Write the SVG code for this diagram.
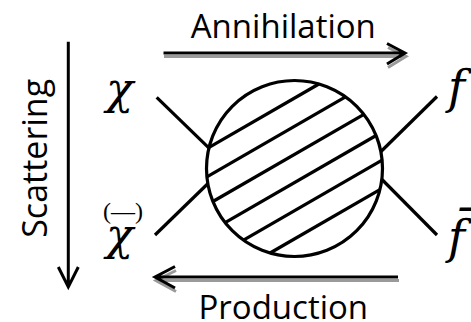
<svg xmlns="http://www.w3.org/2000/svg" width="471" height="322" viewBox="0 0 471 322">
<style>
.ln{fill:none;stroke:#000;stroke-width:3.2;stroke-linecap:butt}
.ar{fill:none;stroke:#000;stroke-width:3;stroke-linejoin:miter}
.sh{fill:none;stroke:#9a9a9a;stroke-width:3}
.lbl{font-family:"Open Sans","DejaVu Sans",sans-serif;font-size:33px;fill:#000}
.math{font-family:"DejaVu Serif","Liberation Serif",serif;font-style:italic;fill:#000}
.paren{font-family:"Liberation Serif","DejaVu Serif",serif;font-style:normal;font-size:24px}
</style>
<rect width="471" height="322" fill="#fff"/>
<g id="connectors">
  <line class="ln" x1="156.7" y1="97.3" x2="209.3" y2="148.3"/>
  <line class="ln" x1="155" y1="235" x2="208.5" y2="183"/>
  <line class="ln" x1="437" y1="96.5" x2="381" y2="151.5"/>
  <line class="ln" x1="381" y1="178.5" x2="437" y2="235"/>
  <g id="arrow-annihilation">
    <path class="sh" d="M164 56.5H406M388 47.5l18 9l-18 11"/>
    <path class="ar" d="M163.5 53H405M387 43.5l18 9.5l-18 11"/>
  </g>
  <g id="arrow-production">
    <path class="sh" d="M160 280.5H399M176 270.5l-20 10l20 11"/>
    <path class="ar" d="M398 277H157M175 266.5l-20 10.5l20 11"/>
  </g>
  <g id="arrow-scattering">
    <path class="ar" d="M68.3 41.7V285M58.3 267l10 20l10-20"/>
  </g>
</g>
<g id="blob">
  <circle cx="294.5" cy="168.5" r="88" fill="#fff" stroke="#000" stroke-width="3.2"/>
  <line class="ln" x1="209.1" y1="147.4" x2="318.9" y2="84.0"/>
  <line class="ln" x1="206.9" y1="176.8" x2="345.5" y2="96.8"/>
  <line class="ln" x1="212.9" y1="201.5" x2="363.9" y2="114.4"/>
  <line class="ln" x1="225.1" y1="222.6" x2="376.1" y2="135.5"/>
  <line class="ln" x1="243.5" y1="240.2" x2="382.1" y2="160.2"/>
  <line class="ln" x1="270.1" y1="253.0" x2="379.9" y2="189.6"/>
</g>
<g id="label-annihilation"><text class="lbl" x="283.3" y="38" text-anchor="middle">Annihilation</text></g>
<g id="label-production"><text class="lbl" x="283.3" y="318.5" text-anchor="middle">Production</text></g>
<g id="label-scattering"><text class="lbl" transform="translate(46.5,158.3) rotate(-90)" text-anchor="middle" style="font-size:34px">Scattering</text></g>
<g id="chi"><text class="math" x="106" y="104" style="font-size:45px">χ</text></g>
<g id="chibar">
  <text class="math" style="font-size:45px"><tspan class="paren" x="123" y="219" text-anchor="middle">(—)</tspan><tspan x="106" y="250">χ</tspan></text>
</g>
<g id="f"><text class="math" x="448" y="103" style="font-size:46px">f</text></g>
<g id="fbar"><text class="math" x="448" y="253" style="font-size:46px">f̄</text></g>
</svg>
